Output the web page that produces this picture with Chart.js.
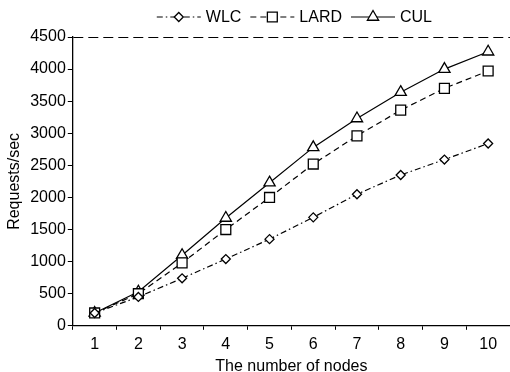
<!DOCTYPE html>
<html>
<head>
<meta charset="utf-8">
<script src="https://cdn.jsdelivr.net/npm/chart.js@4"></script>
<style>
  html, body { margin: 0; padding: 0; background: #fff; }
  #wrap { width: 510px; height: 372px; }
</style>
</head>
<body>
<div id="wrap"><canvas id="grafico"></canvas></div>
<script>
var nodes = ['1', '2', '3', '4', '5', '6', '7', '8', '9', '10'];
var wlc  = [200, 450, 740, 1040, 1350, 1690, 2050, 2350, 2590, 2840];
var lard = [200, 500, 980, 1500, 2000, 2520, 2960, 3360, 3700, 3970];
var cul  = [200, 530, 1100, 1680, 2230, 2780, 3230, 3640, 4000, 4270];
var yTicks = [0, 500, 1000, 1500, 2000, 2500, 3000, 3500, 4000, 4500];

var fonte = 'Liberation Sans, Arial, Helvetica, sans-serif';

function serie(label, valores, estilo, raio, traco) {
  return {
    label: label,
    data: valores,
    borderColor: '#000',
    borderWidth: 1.2,
    borderDash: traco,
    fill: false,
    tension: 0,
    clip: false,
    pointStyle: estilo,
    pointRadius: raio,
    pointHoverRadius: raio,
    pointBorderWidth: 1.3,
    pointBorderColor: '#000',
    pointBackgroundColor: '#fff'
  };
}

var data = {
  labels: nodes,
  datasets: [
    serie('WLC', wlc, 'rectRot', 4.5, [6, 3, 1.5, 3]),
    serie('LARD', lard, 'rect', 7, [6, 4]),
    serie('CUL', cul, 'triangle', 6.5, [])
  ]
};

// legenda desenhada a mao: linha com marcador + texto
var legenda = {
  id: 'legenda',
  afterDraw: function(chart) {
    var ctx = chart.ctx;
    var area = chart.chartArea;
    ctx.save();
    ctx.font = '16px ' + fonte;
    var linha = 44, gap1 = 5, gap2 = 9;
    var total = 0;
    chart.data.datasets.forEach(function(ds, i) {
      total += linha + gap1 + ctx.measureText(ds.label).width;
      if (i < chart.data.datasets.length - 1) total += gap2;
    });
    var x = (area.left + area.right) / 2 - total / 2 + 3;
    var y = 17;
    chart.data.datasets.forEach(function(ds) {
      ctx.strokeStyle = '#000';
      ctx.lineWidth = ds.borderWidth;
      ctx.setLineDash(ds.borderDash);
      ctx.beginPath();
      ctx.moveTo(x, y);
      ctx.lineTo(x + linha, y);
      ctx.stroke();
      ctx.setLineDash([]);
      ctx.fillStyle = '#fff';
      ctx.lineWidth = ds.pointBorderWidth;
      Chart.helpers.drawPoint(ctx, { pointStyle: ds.pointStyle, radius: ds.pointRadius, rotation: 0, borderWidth: ds.pointBorderWidth }, x + linha / 2, y);
      ctx.fillStyle = '#000';
      ctx.textBaseline = 'middle';
      ctx.textAlign = 'left';
      ctx.fillText(ds.label, x + linha + gap1, y + 1);
      x += linha + gap1 + ctx.measureText(ds.label).width + gap2;
    });
    ctx.restore();
  }
};

var options = {
  responsive: true,
  maintainAspectRatio: false,
  animation: false,
  layout: { autoPadding: false, padding: { top: 37, right: -3, left: 5, bottom: -3 } },
  scales: {
    x: {
      offset: true,
      grid: {
        offset: true,
        drawOnChartArea: false,
        tickLength: 4,
        color: '#000'
      },
      border: { color: '#000', width: 1.3 },
      ticks: { color: '#000', font: { family: fonte, size: 16 }, padding: 5 },
      title: {
        display: true,
        text: 'The number of nodes',
        color: '#000',
        font: { family: fonte, size: 16, lineHeight: 1 },
        padding: { top: 0, bottom: 0 }
      }
    },
    y: {
      min: 0,
      max: 4500,
      afterBuildTicks: function(scale) {
        scale.ticks = yTicks.map(function(v) { return { value: v }; });
      },
      grid: {
        tickLength: 5,
        tickColor: '#000',
        color: function(c) { return c.tick && c.tick.value === 4500 ? '#000' : 'rgba(0,0,0,0)'; }
      },
      border: { color: '#000', width: 1.3, dash: [10, 5] },
      ticks: {
        color: '#000',
        font: { family: fonte, size: 16 },
        padding: 2,
        callback: function(v) { return String(v); }
      },
      title: {
        display: true,
        text: 'Requests/sec',
        color: '#000',
        font: { family: fonte, size: 16 },
        padding: { top: 0, bottom: 4 }
      }
    }
  },
  plugins: {
    legend: { display: false },
    tooltip: { enabled: false }
  }
};

var ctx = document.getElementById('grafico').getContext('2d');
var meuGrafico = new Chart(ctx, {
  type: 'line',
  data: data,
  options: options,
  plugins: [legenda]
});
</script>
</body>
</html>
